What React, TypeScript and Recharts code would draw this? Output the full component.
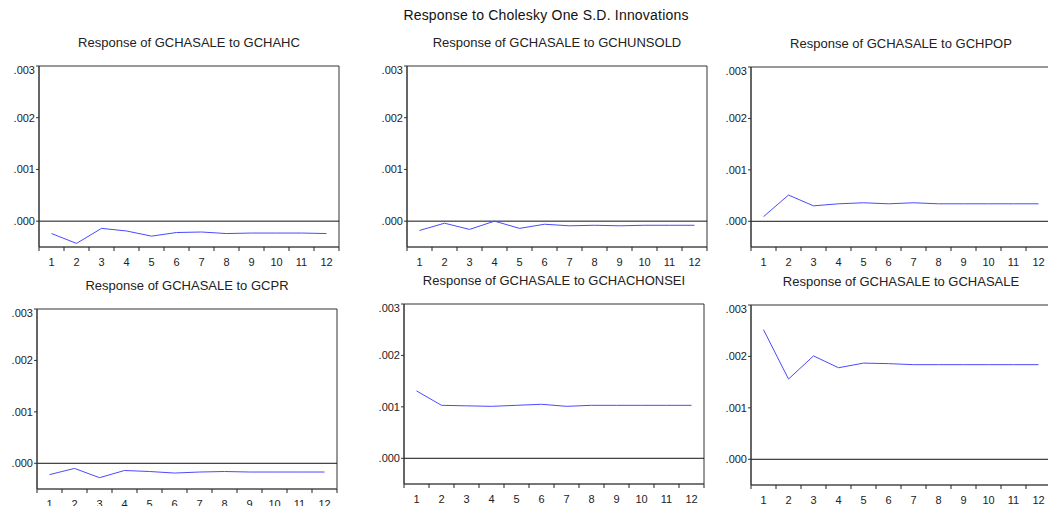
import React from 'react'
import { LineChart, Line, XAxis, YAxis, ReferenceLine, ReferenceArea } from 'recharts'

// impulse horizon (periods)
const steps = [1, 2, 3, 4, 5, 6, 7, 8, 9, 10, 11, 12]
const yTicks = [0, 0.001, 0.002, 0.003]

// responses of GCHASALE
const toGCHAHC = [-0.00024, -0.00043, -0.00014, -0.00019, -0.00029, -0.00022, -0.00021, -0.00024, -0.00023, -0.00023, -0.00023, -0.00024]
const toGCHUNSOLD = [-0.00018, -0.00004, -0.00016, 0.0, -0.00014, -0.00006, -0.00009, -0.00008, -0.00009, -0.00008, -0.00008, -0.00008]
const toGCHPOP = [0.00009, 0.00051, 0.0003, 0.00034, 0.00036, 0.00034, 0.00036, 0.00034, 0.00034, 0.00034, 0.00034, 0.00034]
const toGCPR = [-0.00022, -0.0001, -0.00028, -0.00014, -0.00016, -0.00019, -0.00017, -0.00016, -0.00017, -0.00017, -0.00017, -0.00017]
const toGCHACHONSEI = [0.00131, 0.00103, 0.00102, 0.00101, 0.00103, 0.00105, 0.00101, 0.00103, 0.00103, 0.00103, 0.00103, 0.00103]
const toGCHASALE = [0.00252, 0.00156, 0.00201, 0.00178, 0.00187, 0.00186, 0.00184, 0.00184, 0.00184, 0.00184, 0.00184, 0.00184]

const FONT = "'Liberation Sans', Arial, sans-serif"
const PLOT_W = 300
const Y_W = 40
const HALF_CELL = PLOT_W / steps.length / 2

// period label, plus the EViews-style tick marks on the cell boundaries
function StepTick(props: any) {
    const { x, y, payload } = props
    const last = payload.value === steps[steps.length - 1]
    return (
        <g>
            <line x1={x - HALF_CELL} x2={x - HALF_CELL} y1={y} y2={y + 4} stroke="#222" />
            {last && <line x1={x + HALF_CELL} x2={x + HALF_CELL} y1={y} y2={y + 4} stroke="#222" />}
            <text x={x} y={y + 19} textAnchor="middle" fontSize={11} fill="#222" fontFamily={FONT}>
                {payload.value}
            </text>
        </g>
    )
}

interface PanelProps {
    title: string
    values: number[]
    left: number
    top: number
    bottom: number
}

function Panel({ title, values, left, top, bottom }: PanelProps) {
    const data = steps.map((s, i) => ({ step: s, value: values[i] }))
    const plotH = bottom - top
    return (
        <>
            <div style={{
                position: 'absolute', left, top: top - 31, width: PLOT_W,
                textAlign: 'center', fontSize: 13, color: '#222', whiteSpace: 'nowrap',
            }}>
                {title}
            </div>
            <div style={{ position: 'absolute', left: left - Y_W, top: top - 2 }}>
                <LineChart width={Y_W + PLOT_W + 4} height={plotH + 2 + 22} data={data}
                    margin={{ top: 2, right: 4, bottom: 0, left: 0 }}>
                    <XAxis type="number" dataKey="step" domain={[0.5, 12.5]} ticks={steps} interval={0}
                        axisLine={{ stroke: '#555' }} tickLine={false} tickSize={0} tickMargin={0}
                        height={22} tick={<StepTick />} />
                    <YAxis type="number" domain={[-0.0005, 0.003]} ticks={yTicks} width={Y_W}
                        allowDataOverflow tickSize={3} tickMargin={1}
                        axisLine={{ stroke: '#333' }} tickLine={{ stroke: '#333' }}
                        tick={{ fontSize: 11, fill: '#222', fontFamily: FONT }}
                        tickFormatter={(v: number) => v.toFixed(3).replace(/^0/, '')} />
                    <ReferenceArea x1={0.5} x2={12.5} y1={-0.0005} y2={0.003}
                        fill="none" stroke="#333" ifOverflow="visible" />
                    <ReferenceLine y={0} stroke="#111" />
                    <Line type="linear" dataKey="value" stroke="#4a4aff"
                        strokeWidth={1} dot={false} isAnimationActive={false} />
                </LineChart>
            </div>
        </>
    )
}

export default function App() {
    return (
        <div style={{
            position: 'absolute', left: 0, top: 0, width: 1048, height: 506,
            overflow: 'hidden', background: '#fff', fontFamily: FONT,
        }}>
            <div style={{
                position: 'absolute', left: 0, top: 7, width: 1092, textAlign: 'center',
                fontSize: 14, letterSpacing: 0.2, color: '#111',
            }}>
                Response to Cholesky One S.D. Innovations
            </div>
            <Panel title="Response of GCHASALE to GCHAHC" values={toGCHAHC} left={39} top={66} bottom={247} />
            <Panel title="Response of GCHASALE to GCHUNSOLD" values={toGCHUNSOLD} left={407} top={66} bottom={247} />
            <Panel title="Response of GCHASALE to GCHPOP" values={toGCHPOP} left={751} top={67} bottom={247} />
            <Panel title="Response of GCHASALE to GCPR" values={toGCPR} left={37} top={309} bottom={489} />
            <Panel title="Response of GCHASALE to GCHACHONSEI" values={toGCHACHONSEI} left={404} top={304} bottom={484} />
            <Panel title="Response of GCHASALE to GCHASALE" values={toGCHASALE} left={751} top={305} bottom={485} />
        </div>
    )
}
